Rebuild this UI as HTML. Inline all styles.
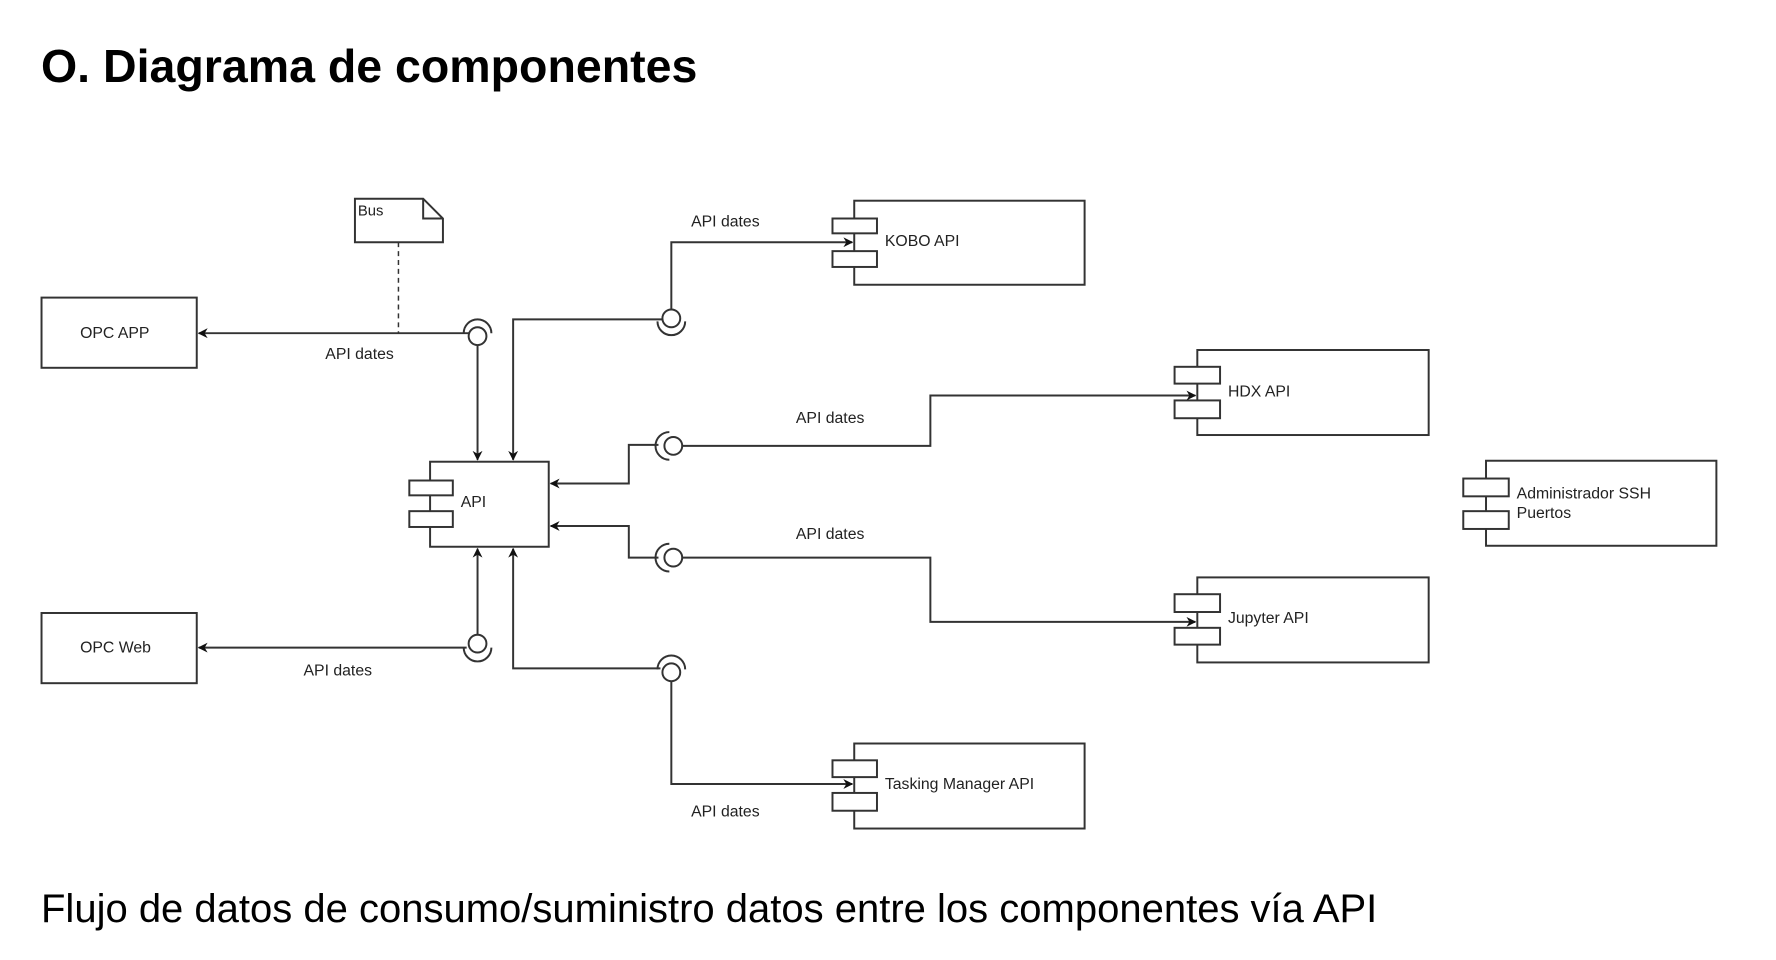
<!DOCTYPE html>
<html><head><meta charset="utf-8"><style>
html,body{margin:0;padding:0;background:#fff;}
svg{display:block;}
text{font-family:"Liberation Sans",Arial,sans-serif;}
</style></head><body>
<svg width="1776" height="960" viewBox="0 0 1776 960" xmlns="http://www.w3.org/2000/svg">
<defs>
<marker id="a" markerWidth="10" markerHeight="10" refX="9" refY="5" orient="auto" markerUnits="userSpaceOnUse">
<path d="M0,0 L10,5 L0,10 L3,5 z" fill="#111"/>
</marker>
</defs>
<text x="41" y="82" font-size="46.5" font-weight="bold" fill="#000">O. Diagrama de componentes</text>
<text x="41" y="922" font-size="40" fill="#000">Flujo de datos de consumo/suministro datos entre los componentes vía API</text>

<g transform="scale(0.9887)">
<g fill="none" stroke="#333" stroke-width="2">
<path d="M359,201 H428 L448,221 V245 H359 Z"/>
<path d="M428,201 V221 H448"/>
<line x1="403" y1="245" x2="403" y2="337" stroke-dasharray="5,4" stroke-width="1.5"/>
<rect x="42" y="301" width="157" height="71"/>
<rect x="42" y="620" width="157" height="71"/>
<rect x="435" y="467" width="120" height="86"/>
<rect x="414" y="486" width="44" height="15" fill="#fff"/>
<rect x="414" y="517" width="44" height="16" fill="#fff"/>
<rect x="864" y="203" width="233" height="85"/>
<rect x="842" y="221" width="45" height="15" fill="#fff"/>
<rect x="842" y="254" width="45" height="16" fill="#fff"/>
<rect x="1211" y="354" width="234" height="86"/>
<rect x="1188" y="371" width="46" height="17" fill="#fff"/>
<rect x="1188" y="405" width="46" height="18" fill="#fff"/>
<rect x="1211" y="584" width="234" height="86"/>
<rect x="1188" y="601" width="46" height="18" fill="#fff"/>
<rect x="1188" y="635" width="46" height="17" fill="#fff"/>
<rect x="1503" y="466" width="233" height="86"/>
<rect x="1480" y="484" width="46" height="18" fill="#fff"/>
<rect x="1480" y="517" width="46" height="18" fill="#fff"/>
<rect x="864" y="752" width="233" height="86"/>
<rect x="842" y="769" width="45" height="17" fill="#fff"/>
<rect x="842" y="802" width="45" height="18" fill="#fff"/>
</g>

<g fill="none" stroke="#333" stroke-width="2">
<path d="M474,337 H201" marker-end="url(#a)"/>
<circle cx="483" cy="340" r="9"/>
<path d="M469,337 A14,14 0 0 1 497,337"/>
<path d="M483,349 V465" marker-end="url(#a)"/>
<path d="M670,323 H519 V465" marker-end="url(#a)"/>
<circle cx="679" cy="322" r="9"/>
<path d="M665,325 A14,14 0 0 0 693,325"/>
<path d="M679,313 V245 H862" marker-end="url(#a)"/>
<circle cx="681" cy="451" r="9"/>
<path d="M677,437 A14,14 0 0 0 677,465"/>
<path d="M690,451 H941 V400 H1209" marker-end="url(#a)"/>
<path d="M666,450 H636 V489 H557" marker-end="url(#a)"/>
<circle cx="681" cy="564" r="9"/>
<path d="M677,550 A14,14 0 0 0 677,578"/>
<path d="M690,564 H941 V629 H1209" marker-end="url(#a)"/>
<path d="M666,564 H636 V532 H557" marker-end="url(#a)"/>
<path d="M472,655 H201" marker-end="url(#a)"/>
<circle cx="483" cy="651" r="9"/>
<path d="M469,655 A14,14 0 0 0 497,655"/>
<path d="M483,642 V555" marker-end="url(#a)"/>
<circle cx="679" cy="680" r="9"/>
<path d="M665,677 A14,14 0 0 1 693,677"/>
<path d="M668,676 H519 V555" marker-end="url(#a)"/>
<path d="M679,689 V793 H862" marker-end="url(#a)"/>
</g>

<g font-size="16" fill="#222">
<text x="329" y="363">API dates</text>
<text x="699" y="229">API dates</text>
<text x="805" y="428">API dates</text>
<text x="805" y="545">API dates</text>
<text x="307" y="683">API dates</text>
<text x="699" y="826">API dates</text>
<text x="466" y="513">API</text>
<text x="895" y="249">KOBO API</text>
<text x="1242" y="401">HDX API</text>
<text x="1242" y="630">Jupyter API</text>
<text x="1534" y="504">Administrador SSH</text>
<text x="1534" y="524">Puertos</text>
<text x="895" y="798">Tasking Manager API</text>
<text x="81" y="342">OPC APP</text>
<text x="81" y="660">OPC Web</text>
<text x="362" y="218" font-size="15">Bus</text>
</g>
</g>
</svg>
</body></html>
